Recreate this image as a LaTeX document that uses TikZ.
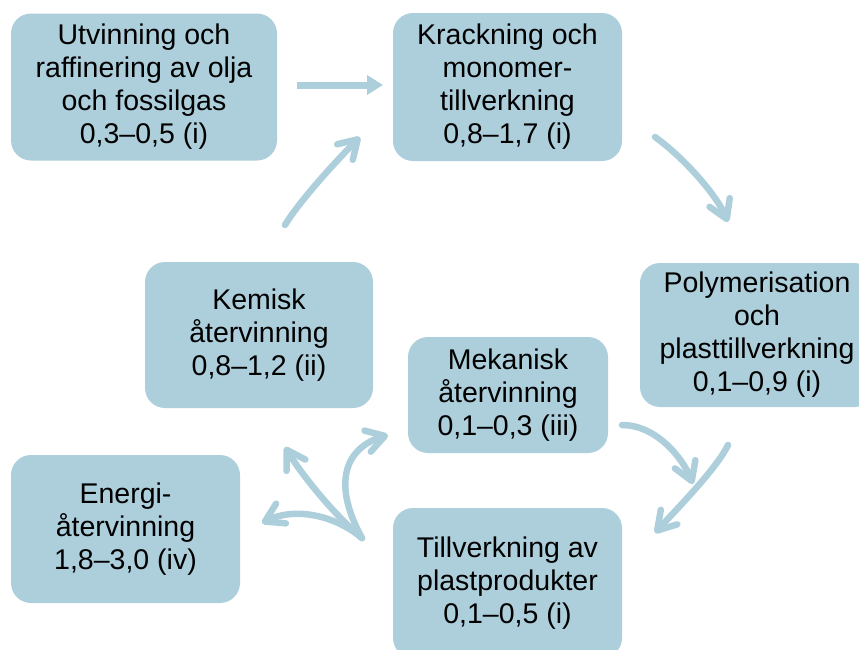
\documentclass[tikz,border=0pt]{standalone}
\usepackage{fontspec}
\setmainfont{Liberation Sans}
\usetikzlibrary{arrows.meta}
\definecolor{stageBlue}{HTML}{ADCFDC}

\begin{document}
\begin{tikzpicture}[
    x=1pt, y=-1pt,
    stage/.style={
        fill=stageBlue, rounded corners=20pt, inner sep=0pt,
        align=center, font=\fontsize{28.5}{33}\selectfont
    },
    flow/.style={draw=stageBlue, line width=6.5pt, line cap=round,
        -{Straight Barb[length=18pt, width=22pt, round]}},
    push/.style={draw=stageBlue, line width=7pt,
        -{Triangle[length=16pt, width=19pt]}},
]
    \clip (0,0) rectangle (859,649);

    % stages
    \node[stage, minimum width=266pt, minimum height=147pt] (utv) at (144,87)
        {Utvinning och\\raffinering av olja\\och fossilgas\\0,3–0,5 (i)};
    \node[stage, minimum width=229pt, minimum height=148pt] (krack) at (507.5,87)
        {Krackning och\\monomer-\\tillverkning\\0,8–1,7 (i)};
    \node[stage, minimum width=234pt, minimum height=144pt] (poly) at (757,335)
        {Polymerisation\\och\\plasttillverkning\\0,1–0,9 (i)};
    \node[stage, minimum width=229pt, minimum height=150pt] (till) at (507.5,583)
        {Tillverkning av\\plastprodukter\\0,1–0,5 (i)};
    \node[stage, minimum width=200pt, minimum height=116pt] (mek) at (508,395)
        {Mekanisk\\återvinning\\0,1–0,3 (iii)};
    \node[stage, minimum width=228pt, minimum height=146pt] (kem) at (259,335)
        {Kemisk\\återvinning\\0,8–1,2 (ii)};
    \node[stage, minimum width=229pt, minimum height=148pt] (energi) at (125.5,529)
        {Energi-\\återvinning\\1,8–3,0 (iv)};

    % arrow ends
    \coordinate (utvOut) at (297,85);
    \coordinate (krackIn) at (383,85);
    \coordinate (krackOut) at (655,137);
    \coordinate (polyIn) at (728,222);
    \coordinate (polyOut) at (728,445);
    \coordinate (tillIn) at (655,533);
    \coordinate (mekOut) at (622,425);
    \coordinate (tillIn2) at (693,484);
    \coordinate (tillOut) at (362,538);
    \coordinate (mekIn) at (388,435);
    \coordinate (kemIn) at (285,447);
    \coordinate (energiIn) at (262,523);
    \coordinate (kemOut) at (285,225);
    \coordinate (krackIn2) at (360,137);

    % flows
    \draw[push] (utvOut) -- (krackIn);
    \draw[flow] (krackOut) .. controls +(28,20) and +(-12,-28) .. (polyIn);
    \draw[flow] (polyOut) .. controls +(-12,25) and +(15,-17) .. (tillIn);
    \draw[flow] (mekOut) .. controls +(35,0) and +(-10,-25) .. (tillIn2);
    \draw[flow] (tillOut) .. controls (330,480) and (348,447) .. (mekIn);
    \draw[flow] (tillOut) .. controls (332,513) and (300,472) .. (kemIn);
    \draw[flow] (tillOut) .. controls (332,513) and (292,508) .. (energiIn);
    \draw[flow] (kemOut) .. controls +(15,-25) and +(-20,20) .. (krackIn2);
\end{tikzpicture}
\end{document}
